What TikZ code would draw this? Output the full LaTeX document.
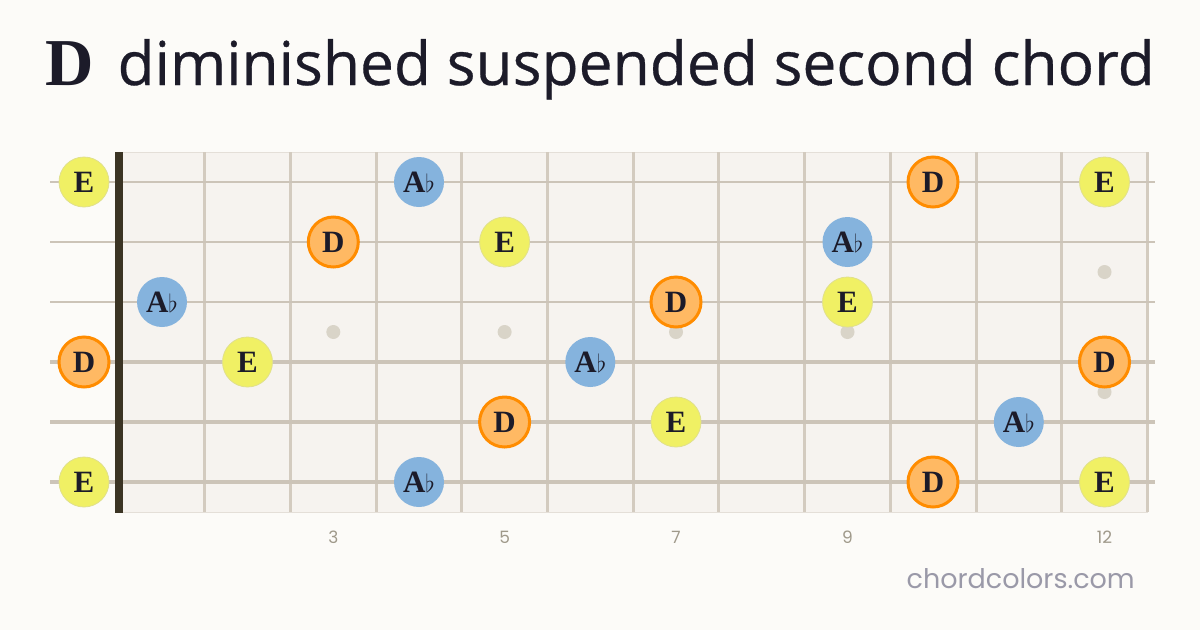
\documentclass[tikz,border=0pt]{standalone}
\usepackage{fontspec}
\setmainfont{Liberation Serif}
\newfontfamily\titlefont[FakeBold=0.5]{Open Sans}
\newfontfamily\markfont{Poppins}
\definecolor{pagebg}{HTML}{FCFBF8}
\definecolor{boardbg}{HTML}{F6F3EF}
\definecolor{boardedge}{HTML}{E4DFD8}
\definecolor{fretline}{HTML}{D3CBBF}
\definecolor{stringline}{HTML}{CCC4B8}
\definecolor{nutcolor}{HTML}{3B3424}
\definecolor{inlay}{HTML}{D9D4C8}
\definecolor{inktext}{HTML}{1C1B29}
\definecolor{greytext}{HTML}{9F998A}
\definecolor{marktext}{HTML}{9A99A8}
\definecolor{noteE}{HTML}{F0F064}
\definecolor{noteEline}{HTML}{E0E08C}
\definecolor{noteD}{HTML}{FFB963}
\definecolor{noteDline}{HTML}{FF8C00}
\definecolor{noteAb}{HTML}{85B3DD}

\begin{document}
\begin{tikzpicture}[x = 1pt, y = -1pt]
\tikzstyle{eStyle} = [shape = circle, minimum size = 50pt, inner sep = 0pt, fill = noteE, draw = noteEline, line width = 0.8pt, text = inktext, font = \fontsize{31}{33}\selectfont\bfseries]
\tikzstyle{dStyle} = [shape = circle, minimum size = 50pt, inner sep = 0pt, fill = noteD, draw = noteDline, line width = 3pt, text = inktext, font = \fontsize{31}{33}\selectfont\bfseries]
\tikzstyle{abStyle} = [shape = circle, minimum size = 50pt, inner sep = 0pt, fill = noteAb, text = inktext, font = \fontsize{31}{33}\selectfont\bfseries]
\tikzstyle{fretStyle} = [draw = fretline, line width = 3pt]
\tikzstyle{inlayStyle} = [shape = circle, minimum size = 14pt, inner sep = 0pt, fill = inlay]
\tikzstyle{fretNumStyle} = [text = greytext, font = \markfont\fontsize{17}{19}\selectfont]
\useasboundingbox[fill = pagebg] (0,0) rectangle (1200,630);
% title
\node[anchor = base west, inner sep = 0pt, text = inktext] (title) at (45,85)
  {{\fontsize{67}{70}\selectfont\bfseries D}\hspace{24pt}{\titlefont\fontsize{60.5}{66}\selectfont diminished suspended second chord}};
% board
\fill[boardbg] (119,152) rectangle (1148,512);
\draw[boardedge, line width = 1pt] (119,152) -- (1148,152);
\draw[boardedge, line width = 1pt] (119,512) -- (1148,512);
% frets
\draw[fretStyle] (204.7,152) -- (204.7,512);
\draw[fretStyle] (290.4,152) -- (290.4,512);
\draw[fretStyle] (376.1,152) -- (376.1,512);
\draw[fretStyle] (461.8,152) -- (461.8,512);
\draw[fretStyle] (547.5,152) -- (547.5,512);
\draw[fretStyle] (633.2,152) -- (633.2,512);
\draw[fretStyle] (718.9,152) -- (718.9,512);
\draw[fretStyle] (804.6,152) -- (804.6,512);
\draw[fretStyle] (890.3,152) -- (890.3,512);
\draw[fretStyle] (976.0,152) -- (976.0,512);
\draw[fretStyle] (1061.7,152) -- (1061.7,512);
\draw[fretStyle] (1147.4,152) -- (1147.4,512);
% inlays
\node[inlayStyle] (i3) at (333.3,332) {};
\node[inlayStyle] (i5) at (504.6,332) {};
\node[inlayStyle] (i7) at (676.0,332) {};
\node[inlayStyle] (i9) at (847.5,332) {};
\node[inlayStyle] (i12a) at (1104.5,272) {};
\node[inlayStyle] (i12b) at (1104.5,392) {};
% strings
\draw[stringline, line width = 2.0pt] (50,182) -- (1155,182);
\draw[stringline, line width = 2.4pt] (50,242) -- (1155,242);
\draw[stringline, line width = 2.8pt] (50,302) -- (1155,302);
\draw[stringline, line width = 3.2pt] (50,362) -- (1155,362);
\draw[stringline, line width = 3.6pt] (50,422) -- (1155,422);
\draw[stringline, line width = 4.0pt] (50,482) -- (1155,482);
% nut
\fill[nutcolor] (115,152) rectangle (123,513);
% fret numbers
\node[fretNumStyle] (n3) at (333.3,537) {3};
\node[fretNumStyle] (n5) at (504.6,537) {5};
\node[fretNumStyle] (n7) at (676.0,537) {7};
\node[fretNumStyle] (n9) at (847.5,537) {9};
\node[fretNumStyle] (n12) at (1104.5,537) {12};
% notes, string 1
\node[eStyle] (s1f0) at (84,182) {E};
\node[abStyle] (s1f4) at (419,182) {A$\flat$};
\node[dStyle] (s1f10) at (933,182) {D};
\node[eStyle] (s1f12) at (1104.5,182) {E};
% string 2
\node[dStyle] (s2f3) at (333.3,242) {D};
\node[eStyle] (s2f5) at (504.6,242) {E};
\node[abStyle] (s2f9) at (847.5,242) {A$\flat$};
% string 3
\node[abStyle] (s3f1) at (162,302) {A$\flat$};
\node[dStyle] (s3f7) at (676.0,302) {D};
\node[eStyle] (s3f9) at (847.5,302) {E};
% string 4
\node[dStyle] (s4f0) at (84,362) {D};
\node[eStyle] (s4f2) at (247.5,362) {E};
\node[abStyle] (s4f6) at (590.3,362) {A$\flat$};
\node[dStyle] (s4f12) at (1104.5,362) {D};
% string 5
\node[dStyle] (s5f5) at (504.6,422) {D};
\node[eStyle] (s5f7) at (676.0,422) {E};
\node[abStyle] (s5f11) at (1018.8,422) {A$\flat$};
% string 6
\node[eStyle] (s6f0) at (84,482) {E};
\node[abStyle] (s6f4) at (419,482) {A$\flat$};
\node[dStyle] (s6f10) at (933,482) {D};
\node[eStyle] (s6f12) at (1104.5,482) {E};
% site mark
\node[anchor = base east, inner sep = 0pt, text = marktext] (mark) at (1135,588)
  {\markfont\fontsize{27}{30}\selectfont chordcolors.com};
\end{tikzpicture}
\end{document}
